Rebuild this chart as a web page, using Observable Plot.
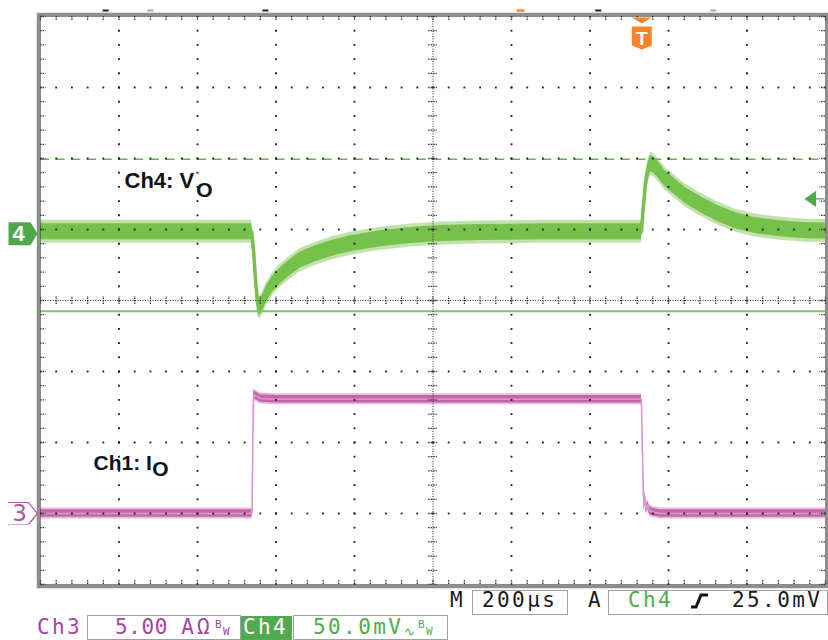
<!DOCTYPE html>
<html><head><meta charset="utf-8">
<script src="https://cdn.jsdelivr.net/npm/d3@7"></script>
<script src="https://cdn.jsdelivr.net/npm/@observablehq/plot@0.6"></script>
<style>
body{margin:0;background:#fff;width:828px;height:640px;overflow:hidden}
#chart svg{display:block}
#status{position:relative;width:828px;height:50px;font-family:"DejaVu Sans Mono",monospace;font-size:21px;letter-spacing:2.4px;color:#1a1a1a;line-height:25px}
#status span,#status div,#status svg{position:absolute;white-space:pre}
.box{border:1px solid #a0a0a0;box-sizing:border-box;height:25px}
.pk{color:#a8449c}
.gr{color:#4cae4c}
.sm{font-size:11px;letter-spacing:0;line-height:11px}
</style></head><body>
<div id="chart"></div>
<div id="status">
  <span style="left:450px;top:-2px">M</span>
  <div class="box" style="left:472px;top:0;width:96px"></div>
  <span style="left:482px;top:-2px">200µs</span>
  <span style="left:588px;top:-2px">A</span>
  <div class="box" style="left:608px;top:0;width:220px"></div>
  <span class="gr" style="left:628px;top:-2px">Ch4</span>
  <svg style="left:690px;top:2px" width="20" height="18"><path d="M1,15 L6,15 L11,3 L18,3" stroke="#111" stroke-width="3" fill="none"/></svg>
  <span style="left:732px;top:-2px">25.0mV</span>

  <span class="pk" style="left:37px;top:25px">Ch3</span>
  <div class="box" style="left:87px;top:25px;width:154px"></div>
  <span class="pk" style="left:115px;top:25px;letter-spacing:0.6px">5.00 A</span>
  <span class="pk" style="left:197px;top:25px;letter-spacing:0">Ω</span>
  <span class="pk sm" style="left:215px;top:29px">B</span>
  <span class="pk sm" style="left:223px;top:36px">W</span>
  <div style="left:241px;top:26px;width:51px;height:24px;background:#52aa50"></div>
  <span style="left:243px;top:25px;color:#fff">Ch4</span>
  <div class="box" style="left:293px;top:25px;width:155px"></div>
  <span class="gr" style="left:313px;top:25px">50.0mV</span>
  <span class="gr sm" style="left:404px;top:36px;font-size:13px">∿</span>
  <span class="gr sm" style="left:418px;top:29px">B</span>
  <span class="gr sm" style="left:426px;top:36px">W</span>
</div>
<script>
// ---------- data (time in µs from screen centre) ----------
const ch4Time = [-1000, -700, -462, -457, -452, -447, -442, -434, -424, -409, -389, -363, -338, -299, -261, -210, -134, -57, 19, 121, 274, 531, 536, 541, 547, 554, 562, 575, 592, 618, 643, 682, 725, 771, 822, 885, 949, 1000];
const ch4mV   = [0, 0, 0, -14, -35, -50, -54, -50, -44, -37, -31, -25, -20, -15.5, -12, -8.5, -5, -2.8, -1.4, -0.7, 0, 0, 17.6, 33, 42, 48, 47, 43, 37, 31, 25.4, 19, 12.7, 7.7, 4.2, 2.1, 0.7, 0.4];
const ch3Time = [-1000, -461, -459, -457, -452, -440, -400, 0, 531, 534, 537, 540, 543, 547, 552, 560, 580, 1000];
const ch3Amp  = [0, 0, 5, 8.4, 8.3, 8.1, 8.05, 8.05, 8.05, 4, 0.5, 1.2, 0.3, 0.6, 0.2, 0.1, 0, 0];

const ch4OffsetDiv = 0.97, ch4VoltsPerDiv = 50;   // mV/div
const ch3OffsetDiv = -3,   ch3AmpsPerDiv = 5;     // A/div
const cursorDashedmV = [51];
const cursorSolidmV = [-56];
const triggerTime = [532];
const triggerLevelmV = [23];
const topMarkTime = [-834, -427, 421];
const topGrayTime = [-720, 714];
const topOrangeTime = [223];

const labelText = ["Ch4: V", "O", "Ch1: I", "O"];
const labelTime = [-786, -603, -865, -715];
const labelDiv  = [1.683, 1.556, -2.289, -2.38];
const labelSize = [22, 21, 21, 21];

const ch4 = ch4Time.map((t, i) => ({t, v: ch4mV[i]}));
const ch3 = ch3Time.map((t, i) => ({t, v: ch3Amp[i]}));
const labels = labelText.map((s, i) => ({s, t: labelTime[i], d: labelDiv[i], size: labelSize[i]}));

const y4 = v => ch4OffsetDiv + v / ch4VoltsPerDiv;
const y3 = v => ch3OffsetDiv + v / ch3AmpsPerDiv;
const PX = 1 / 71; // one pixel in divisions

// ---------- graticule ----------
const majorT = d3.range(-5, 6).map(i => i * 200);
const minorT = d3.range(-25, 26).map(i => i * 40);
const majorDiv = d3.range(-4, 5);
const minorDiv = d3.range(-20, 21).map(i => i / 5);
const vDots = majorT.filter(t => Math.abs(t) !== 1000 && t !== 0).flatMap(t => minorDiv.map(d => ({t, d})));
const hDots = majorDiv.filter(d => Math.abs(d) !== 4 && d !== 0).flatMap(d => minorT.map(t => ({t, d})));

// ---------- custom symbols ----------
const pent = {draw(c){ c.moveTo(-29,-11.5); c.lineTo(-7,-11.5); c.lineTo(0,0); c.lineTo(-7,11.5); c.lineTo(-29,11.5); c.closePath(); }};
const chev = {draw(c){ c.moveTo(-29,-11); c.lineTo(-9,-11); c.lineTo(0,0); c.lineTo(-9,11); }};
const chevBottom = {draw(c){ c.moveTo(-29,11); c.lineTo(-9,11); }};
const trigTri = {draw(c){ c.moveTo(-10,1); c.lineTo(10,1); c.lineTo(0,7); c.closePath(); }};
const shield = {draw(c){ c.moveTo(-10,10); c.lineTo(10,10); c.lineTo(10,29); c.lineTo(0,33); c.lineTo(-10,29); c.closePath(); }};
const levelArrow = {draw(c){ c.moveTo(-20,0); c.lineTo(-10,-7); c.lineTo(-10,7); c.closePath(); c.moveTo(-10,0); c.lineTo(-1,0); }};
const dash = {draw(c){ c.rect(-3,-1,6,2); }};
const dashWide = {draw(c){ c.rect(-4,-1.2,8,2.4); }};

const green = "#76c14b", greenLight = "#b6dd9c", pink = "#c566ac", pinkLight = "#e2b0d5", orange = "#f5842c";
const bold = "Liberation Sans, Arial, sans-serif";

const plot = Plot.plot({
  width: 828, height: 590,
  marginLeft: 40, marginRight: 3, marginTop: 16, marginBottom: 6,
  x: {domain: [-1000, 1000], axis: null},
  y: {domain: [-4, 4], axis: null},
  style: {background: "#fff", overflow: "visible"},
  marks: [
    // traces
    Plot.areaY(ch4, {x: "t", y1: d => y4(d.v) - 11.5 * PX, y2: d => y4(d.v) + 11.5 * PX, fill: greenLight, fillOpacity: 0.85}),
    Plot.areaY(ch4, {x: "t", y1: d => y4(d.v) - 8 * PX, y2: d => y4(d.v) + 8 * PX, fill: green}),
    Plot.line(ch4, {x: "t", y: d => y4(d.v), stroke: green, strokeWidth: 3.5}),
    Plot.areaY(ch3, {x: "t", y1: d => y3(d.v) - 5.5 * PX, y2: d => y3(d.v) + 5.5 * PX, fill: pinkLight, fillOpacity: 0.85}),
    Plot.areaY(ch3, {x: "t", y1: d => y3(d.v) - 3.8 * PX, y2: d => y3(d.v) + 3.8 * PX, fill: pink}),
    Plot.line(ch3, {x: "t", y: d => y3(d.v), stroke: "#dc98ca", strokeWidth: 1.6}),
    // cursors
    Plot.ruleY(cursorDashedmV, {y: v => y4(v), stroke: "#62b552", strokeWidth: 1.6, strokeDasharray: "9,6.7"}),
    Plot.ruleY(cursorSolidmV, {y: v => y4(v), stroke: "#7cc46a", strokeWidth: 2}),
    // graticule
    Plot.dot(vDots, {x: "t", y: "d", r: 1.05, symbol: "square", fill: "#1e1e1e", stroke: null}),
    Plot.dot(hDots, {x: "t", y: "d", r: 1.05, symbol: "square", fill: "#1e1e1e", stroke: null}),
    Plot.ruleY([0], {stroke: "#333", strokeDasharray: "1,1.5"}),
    Plot.ruleX([0], {stroke: "#333", strokeDasharray: "1,1.5"}),
    Plot.ruleX(minorT, {x: d => d, y1: -4 * PX, y2: 4 * PX, stroke: "#333", strokeWidth: 1.3, strokeDasharray: "1.5,1"}),
    Plot.ruleY(minorDiv, {y: d => d, x1: -11, x2: 11, stroke: "#333", strokeWidth: 1.3, strokeDasharray: "1.5,1"}),
    // border
    Plot.frame({stroke: "#8e8e8e", strokeWidth: 3.5, inset: -2}),
    Plot.frame({stroke: "#333", strokeDasharray: "1,1"}),
    Plot.ruleX(minorT, {x: d => d, y1: 4, y2: 4 - 5 * PX, stroke: "#333", strokeWidth: 1.3, strokeDasharray: "1.5,1"}),
    Plot.ruleX(minorT, {x: d => d, y1: -4, y2: -4 + 5 * PX, stroke: "#333", strokeWidth: 1.3, strokeDasharray: "1.5,1"}),
    Plot.ruleY(minorDiv, {y: d => d, x1: -1000, x2: -986, stroke: "#333", strokeWidth: 1.3, strokeDasharray: "1.5,1"}),
    Plot.ruleY(minorDiv, {y: d => d, x1: 1000, x2: 986, stroke: "#333", strokeWidth: 1.3, strokeDasharray: "1.5,1"}),
    // top record marks
    Plot.dot(topMarkTime, {x: d => d, y: () => 4, dy: -6, symbol: dash, fill: "#222", stroke: null}),
    Plot.dot(topGrayTime, {x: d => d, y: () => 4, dy: -6, symbol: dash, fill: "#aaa", stroke: null}),
    Plot.dot(topOrangeTime, {x: d => d, y: () => 4, dy: -6, symbol: dashWide, fill: orange, stroke: null}),
    // trigger marker
    Plot.dot(triggerTime, {x: d => d, y: () => 4, symbol: trigTri, fill: orange, stroke: null}),
    Plot.dot(triggerTime, {x: d => d, y: () => 4, symbol: shield, fill: orange, stroke: null}),
    Plot.text(triggerTime, {x: d => d, y: () => 4, dy: 22, text: () => "T", fill: "#fff", fontSize: 19, fontWeight: "bold", fontFamily: bold}),
    // trigger level
    Plot.dot(triggerLevelmV, {x: () => 1000, y: v => y4(v), symbol: levelArrow, fill: "#4aaa46", stroke: "#4aaa46", strokeWidth: 1.2}),
    // channel markers
    Plot.dot([ch4OffsetDiv], {x: () => -1000, y: d => d, dx: -3, dy: 2, symbol: pent, fill: "#4ea84a", stroke: null}),
    Plot.text([ch4OffsetDiv], {x: () => -1000, y: d => d, dx: -22, dy: 2, text: () => "4", fill: "#fff", fontSize: 22, fontWeight: "bold", fontFamily: bold}),
    Plot.dot([ch3OffsetDiv], {x: () => -1000, y: d => d, dx: -3, symbol: chev, fill: "none", stroke: "#b455a2", strokeWidth: 1.2}),
    Plot.dot([ch3OffsetDiv], {x: () => -1000, y: d => d, dx: -3, symbol: chevBottom, fill: "none", stroke: "#b455a2", strokeWidth: 1.2, strokeDasharray: "1,1"}),
    Plot.text([ch3OffsetDiv], {x: () => -1000, y: d => d, dx: -21, text: () => "3", fill: "#b455a2", fontSize: 23, fontFamily: "DejaVu Sans, sans-serif"}),
    // labels
    Plot.text(labels, {x: "t", y: "d", text: "s", textAnchor: "start", lineAnchor: "middle", fill: "#111", fontSize: "size", fontWeight: "bold", fontFamily: bold})
  ]
});
document.getElementById("chart").appendChild(plot);
</script>
</body></html>
